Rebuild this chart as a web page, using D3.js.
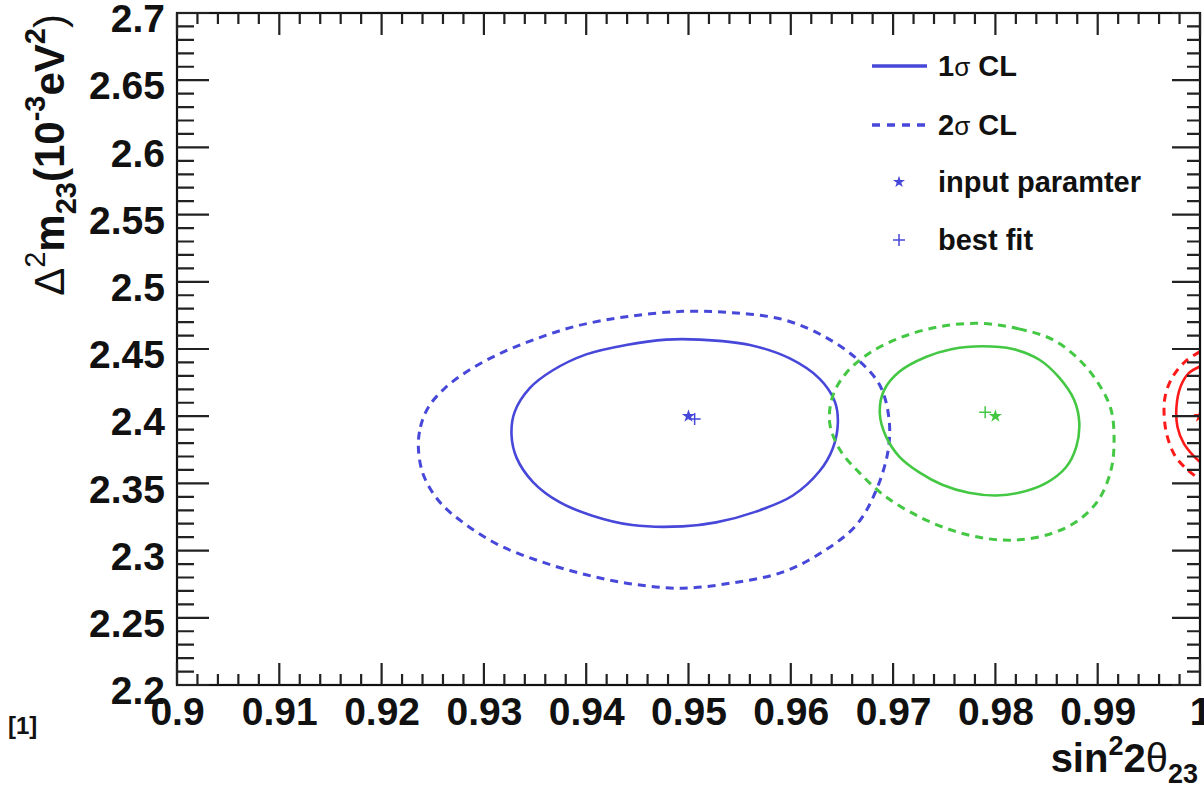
<!DOCTYPE html>
<html lang="en">
<head>
	<meta charset="utf-8">
	<title>sin2 2theta23 vs dm2 23 contours</title>
	<script src="https://d3js.org/d3.v7.min.js"></script>
	<style>
		body { margin: 0; background: #fff; }
		svg text { font-family: "Liberation Sans", Arial, sans-serif; }
	</style>
</head>
<body>
	<div id="chart"></div>
	<script>
		// tick labels
		let xMajor = [0.9, 0.91, 0.92, 0.93, 0.94, 0.95, 0.96, 0.97, 0.98, 0.99, 1.0];
		let yMajor = [2.2, 2.25, 2.3, 2.35, 2.4, 2.45, 2.5, 2.55, 2.6, 2.65, 2.7];

		// contour points [sin^2 2theta, dm2]
		let blue1s = [
			[0.9327, 2.386], [0.9330, 2.403], [0.9345, 2.421], [0.9367, 2.434], [0.9400, 2.446],
			[0.9439, 2.453], [0.9478, 2.457], [0.9511, 2.457], [0.9560, 2.453], [0.9599, 2.443],
			[0.9628, 2.428], [0.9643, 2.411], [0.9646, 2.395], [0.9641, 2.376], [0.9628, 2.359],
			[0.9602, 2.341], [0.9566, 2.329], [0.9527, 2.321], [0.9494, 2.318], [0.9445, 2.319],
			[0.9406, 2.326], [0.9374, 2.336], [0.9348, 2.351], [0.9332, 2.369]
		];
		let blue2s = [
			[0.9236, 2.376], [0.9238, 2.392], [0.9246, 2.407], [0.9262, 2.421], [0.9285, 2.434],
			[0.9314, 2.446], [0.9349, 2.457], [0.9390, 2.467], [0.9439, 2.474], [0.9494, 2.478],
			[0.9543, 2.477], [0.9592, 2.472], [0.9631, 2.460], [0.9664, 2.443], [0.9687, 2.423],
			[0.9696, 2.398], [0.9695, 2.374], [0.9683, 2.344], [0.9664, 2.319], [0.9631, 2.299],
			[0.9592, 2.284], [0.9543, 2.276], [0.9494, 2.272], [0.9446, 2.275], [0.9400, 2.282],
			[0.9355, 2.292], [0.9315, 2.304], [0.9283, 2.319], [0.9257, 2.336], [0.9241, 2.356]
		];
		let green1s = [
			[0.9687, 2.402], [0.9691, 2.419], [0.9706, 2.433], [0.9732, 2.444], [0.9758, 2.450],
			[0.9787, 2.452], [0.9817, 2.450], [0.9843, 2.442], [0.9862, 2.429], [0.9877, 2.412],
			[0.9882, 2.395], [0.9879, 2.377], [0.9869, 2.362], [0.9849, 2.350], [0.9823, 2.343],
			[0.9801, 2.341], [0.9774, 2.343], [0.9748, 2.349], [0.9726, 2.358], [0.9706, 2.370],
			[0.9693, 2.385]
		];
		let green2s = [
			[0.9787, 2.469], [0.9823, 2.465], [0.9856, 2.457], [0.9882, 2.442], [0.9901, 2.424],
			[0.9913, 2.405], [0.9916, 2.382], [0.9913, 2.360], [0.9901, 2.338], [0.9882, 2.323],
			[0.9856, 2.313], [0.9823, 2.308], [0.9791, 2.309], [0.9758, 2.315], [0.9726, 2.325],
			[0.9693, 2.340], [0.9667, 2.358], [0.9648, 2.375], [0.9638, 2.395], [0.9641, 2.415],
			[0.9654, 2.432], [0.9677, 2.447], [0.9709, 2.459], [0.9748, 2.467]
		];
		let red1s = [
			[1.0000, 2.437], [0.9989, 2.432], [0.9981, 2.422], [0.9977, 2.407], [0.9978, 2.392],
			[0.9984, 2.380], [0.9993, 2.371], [1.0000, 2.366]
		];
		let red2s = [
			[1.0000, 2.448], [0.9986, 2.441], [0.9973, 2.429], [0.9966, 2.415], [0.9965, 2.400],
			[0.9968, 2.385], [0.9976, 2.370], [0.9988, 2.360], [1.0000, 2.353]
		];
		let inputPoints = [
			{x: 0.95, y: 2.40, c: "blue"}, {x: 0.98, y: 2.40, c: "green"}, {x: 1.0, y: 2.40, c: "red"}
		];
		let bestFitPoints = [
			{x: 0.9506, y: 2.398, c: "blue"}, {x: 0.979, y: 2.403, c: "green"}
		];
		let legendLabels = ["1", "2", "input paramter", "best fit"];

		let colors = {blue: "#4747d9", green: "#44c844", red: "#ff1a1a"};

		let xSize = 1204;
		let ySize = 786;
		let pLeft = 177, pRight = 1200, pTop = 13, pBottom = 685;

		let svg = d3.select("#chart")
			.append("svg")
			.attr("width", xSize)
			.attr("height", ySize);

		let x = d3.scaleLinear().domain([0.9, 1.0]).range([pLeft, pRight]);
		let y = d3.scaleLinear().domain([2.2, 2.7]).range([pBottom, pTop]);

		// clip for the contours
		svg.append("clipPath").attr("id", "plotClip")
			.append("rect")
			.attr("x", pLeft).attr("y", pTop)
			.attr("width", pRight - pLeft).attr("height", pBottom - pTop);

		let plot = svg.append("g").attr("clip-path", "url(#plotClip)");

		let closedLine = d3.line()
			.x(d => x(d[0]))
			.y(d => y(d[1]))
			.curve(d3.curveCatmullRomClosed);
		let openLine = d3.line()
			.x(d => x(d[0]))
			.y(d => y(d[1]))
			.curve(d3.curveCatmullRom);

		let contours = [
			{data: blue2s, c: "blue", dash: true, closed: true},
			{data: blue1s, c: "blue", dash: false, closed: true},
			{data: green2s, c: "green", dash: true, closed: true},
			{data: green1s, c: "green", dash: false, closed: true},
			{data: red2s, c: "red", dash: true, closed: false},
			{data: red1s, c: "red", dash: false, closed: false}
		];
		contours.forEach(function(k) {
			plot.append("path")
				.datum(k.data)
				.attr("fill", "none")
				.attr("stroke", colors[k.c])
				.attr("stroke-width", k.dash ? 3 : 2.6)
				.attr("stroke-dasharray", k.dash ? "8,6" : null)
				.attr("d", k.closed ? closedLine : openLine);
		});

		// markers
		let star = d3.symbol(d3.symbolStar).size(55);
		plot.selectAll("path.input")
			.data(inputPoints)
			.enter()
			.append("path")
			.attr("class", "input")
			.attr("d", star)
			.attr("transform", d => "translate(" + x(d.x) + "," + y(d.y) + ")")
			.attr("fill", d => colors[d.c]);
		plot.selectAll("path.best")
			.data(bestFitPoints)
			.enter()
			.append("path")
			.attr("class", "best")
			.attr("d", "M-6,0H6M0,-6V6")
			.attr("transform", d => "translate(" + x(d.x) + "," + y(d.y) + ")")
			.attr("stroke", d => colors[d.c])
			.attr("stroke-width", 1.5);

		// frame
		svg.append("rect")
			.attr("x", pLeft).attr("y", pTop)
			.attr("width", pRight - pLeft).attr("height", pBottom - pTop)
			.attr("fill", "none")
			.attr("stroke", "#111")
			.attr("stroke-width", 2.2);

		// tick marks on all four sides, pointing inwards, built as one path
		let minorX = x.ticks(50), minorY = y.ticks(50);
		let tickPath = d3.path();
		minorX.forEach(function(d) {
			let len = xMajor.some(m => Math.abs(m - d) < 1e-6) ? 22 : 11;
			tickPath.moveTo(x(d), pBottom); tickPath.lineTo(x(d), pBottom - len);
			tickPath.moveTo(x(d), pTop); tickPath.lineTo(x(d), pTop + len);
		});
		minorY.forEach(function(d) {
			let major = yMajor.some(m => Math.abs(m - d) < 1e-6);
			tickPath.moveTo(pLeft, y(d)); tickPath.lineTo(pLeft + (major ? 32 : 17), y(d));
			tickPath.moveTo(pRight, y(d)); tickPath.lineTo(pRight - (major ? 28 : 13), y(d));
		});
		svg.append("path")
			.attr("d", tickPath.toString())
			.attr("fill", "none")
			.attr("stroke", "#222")
			.attr("stroke-width", 2.2);

		// tick labels
		let fmt = d3.format("~g");
		svg.append("g").attr("transform", "translate(0," + pBottom + ")")
			.call(d3.axisBottom(x).tickValues(xMajor).tickSize(0).tickPadding(12).tickFormat(fmt))
			.call(styleAxis);
		svg.append("g").attr("transform", "translate(" + pLeft + ",0)")
			.call(d3.axisLeft(y).tickValues(yMajor).tickSize(0).tickPadding(12).tickFormat(fmt))
			.call(styleAxis)
			.call(g => g.selectAll("text").attr("dy", "0.48em"));

		function styleAxis(g) {
			g.select(".domain").remove();
			g.selectAll("line").remove();
			g.selectAll("text")
				.attr("font-family", "'Liberation Sans', Arial, sans-serif")
				.attr("font-size", 39)
				.attr("font-weight", "bold")
				.attr("fill", "#111");
		}

		// axis titles
		let xt = svg.append("text")
			.attr("x", 1198).attr("y", 772)
			.attr("text-anchor", "end")
			.attr("font-size", 40)
			.attr("font-weight", "bold")
			.attr("fill", "#111");
		xt.append("tspan").text("sin");
		xt.append("tspan").attr("font-size", 27).attr("dy", -17).text("2");
		xt.append("tspan").attr("dy", 17).text("2");
		xt.append("tspan").attr("font-weight", "normal").text("θ");
		xt.append("tspan").attr("font-size", 27).attr("dy", 11).text("23");

		let yt = svg.append("text")
			.attr("transform", "translate(64,14) rotate(-90)")
			.attr("text-anchor", "end")
			.attr("font-size", 42)
			.attr("fill", "#111");
		yt.append("tspan").text("Δ");
		yt.append("tspan").attr("font-size", 29).attr("dy", -19).text("2");
		yt.append("tspan").attr("dy", 19).attr("font-weight", "bold").text("m");
		yt.append("tspan").attr("font-size", 29).attr("dy", 12).attr("font-weight", "bold").text("23");
		yt.append("tspan").attr("dy", -12).attr("font-weight", "bold").text("(10");
		yt.append("tspan").attr("font-size", 29).attr("dy", -19).attr("font-weight", "bold").text("-3");
		yt.append("tspan").attr("dy", 19).attr("font-weight", "bold").text("eV");
		yt.append("tspan").attr("font-size", 29).attr("dy", -19).attr("font-weight", "bold").text("2");
		yt.append("tspan").attr("dy", 19).text(")");

		svg.append("text")
			.attr("x", 8).attr("y", 734)
			.attr("font-size", 24)
			.attr("font-weight", "bold")
			.attr("fill", "#111")
			.text("[1]");

		// legend
		let legend = svg.append("g").attr("fill", "#111");
		let rowY = [66, 125, 182, 240];
		legend.append("line")
			.attr("x1", 872).attr("x2", 927).attr("y1", rowY[0]).attr("y2", rowY[0])
			.attr("stroke", colors.blue).attr("stroke-width", 3.6);
		legend.append("line")
			.attr("x1", 872).attr("x2", 927).attr("y1", rowY[1]).attr("y2", rowY[1])
			.attr("stroke", colors.blue).attr("stroke-width", 3.6)
			.attr("stroke-dasharray", "8,7");
		legend.append("path")
			.attr("d", d3.symbol(d3.symbolStar).size(45))
			.attr("transform", "translate(899," + rowY[2] + ")")
			.attr("fill", colors.blue);
		legend.append("path")
			.attr("d", "M-6,0H6M0,-6V6")
			.attr("transform", "translate(899," + rowY[3] + ")")
			.attr("stroke", colors.blue).attr("stroke-width", 1.5);

		legendLabels.forEach(function(lab, i) {
			let t = legend.append("text")
				.attr("x", 938).attr("y", rowY[i] + 10)
				.attr("font-size", 29)
				.attr("font-weight", "bold");
			if (i < 2) {
				t.append("tspan").text(lab);
				t.append("tspan").attr("font-weight", "normal").attr("font-size", 26).text("σ");
				t.append("tspan").text(" CL");
			} else {
				t.text(lab);
			}
		});
	</script>
</body>
</html>
